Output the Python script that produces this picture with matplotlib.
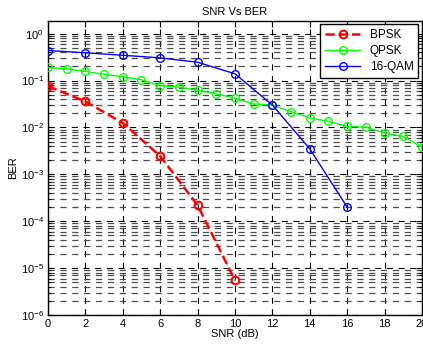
import matplotlib
matplotlib.use("Agg")
import matplotlib.pyplot as plt
from matplotlib.ticker import LogLocator, MultipleLocator, NullFormatter

plt.rcParams["font.family"] = ["Liberation Sans", "DejaVu Sans"]
plt.rcParams["mathtext.default"] = "regular"

# Data
snr_bpsk = [0, 2, 4, 6, 8, 10]
ber_bpsk = [0.0755, 0.0357, 0.0124, 0.00245, 2.2e-4, 5.5e-6]

snr_qpsk = list(range(0, 21))
ber_qpsk = [0.19, 0.177, 0.156, 0.136, 0.12, 0.103, 0.078, 0.072, 0.062, 0.052,
            0.042, 0.0316, 0.030, 0.0216, 0.016, 0.0134, 0.0105, 0.0101, 0.0076,
            0.0064, 0.0038]

snr_qam = [0, 2, 4, 6, 8, 10, 12, 14, 16]
ber_qam = [0.436, 0.39, 0.345, 0.304, 0.245, 0.139, 0.030, 0.0035, 2.0e-4]

fig = plt.figure(figsize=(4.23, 3.44), dpi=100)
ax = fig.add_axes([0.1135, 0.0843, 0.884, 0.856])

ax.semilogy(snr_bpsk, ber_bpsk, "r--o", lw=1.8, ms=5.5, mfc="none", mew=1.5,
            label="BPSK", zorder=3)
ax.semilogy(snr_qpsk, ber_qpsk, "-o", color="#00ff00", lw=1.0, ms=5.5,
            mfc="none", mew=1.0, label="QPSK", zorder=3)
ax.semilogy(snr_qam, ber_qam, "-o", color="#0000ff", lw=1.0, ms=5.5,
            mfc="none", mew=1.0, label="16-QAM", zorder=3)

ax.set_xlim(0, 20)
ax.set_ylim(1e-6, 1.9)
ax.xaxis.set_major_locator(MultipleLocator(2))
ax.yaxis.set_major_locator(LogLocator(base=10, numticks=10))
ax.yaxis.set_minor_locator(LogLocator(base=10, subs=range(2, 10), numticks=20))
ax.yaxis.set_minor_formatter(NullFormatter())

ax.grid(True, which="major", color="black", lw=0.8, ls=(0, (5.5, 5)))
ax.grid(True, which="minor", axis="y", color="0.3", lw=0.9, ls=(0, (5, 4.5)))

ax.tick_params(which="both", direction="in", top=True, right=True,
               labelsize=8, pad=3)
ax.tick_params(which="major", length=4)
ax.tick_params(which="minor", length=2)
for s in ax.spines.values():
    s.set_linewidth(1.0)

ax.set_title("SNR Vs BER", fontsize=8, pad=4)
ax.set_xlabel("SNR (dB)", fontsize=8, labelpad=0)
ax.set_ylabel("BER", fontsize=8, labelpad=2)

leg = ax.legend(loc="upper right", fontsize=8.5, fancybox=False, framealpha=1,
                edgecolor="black", borderaxespad=0.3, handlelength=3,
                labelspacing=0.35)
leg.get_frame().set_linewidth(1.0)

fig.savefig("out.png", dpi=100)
